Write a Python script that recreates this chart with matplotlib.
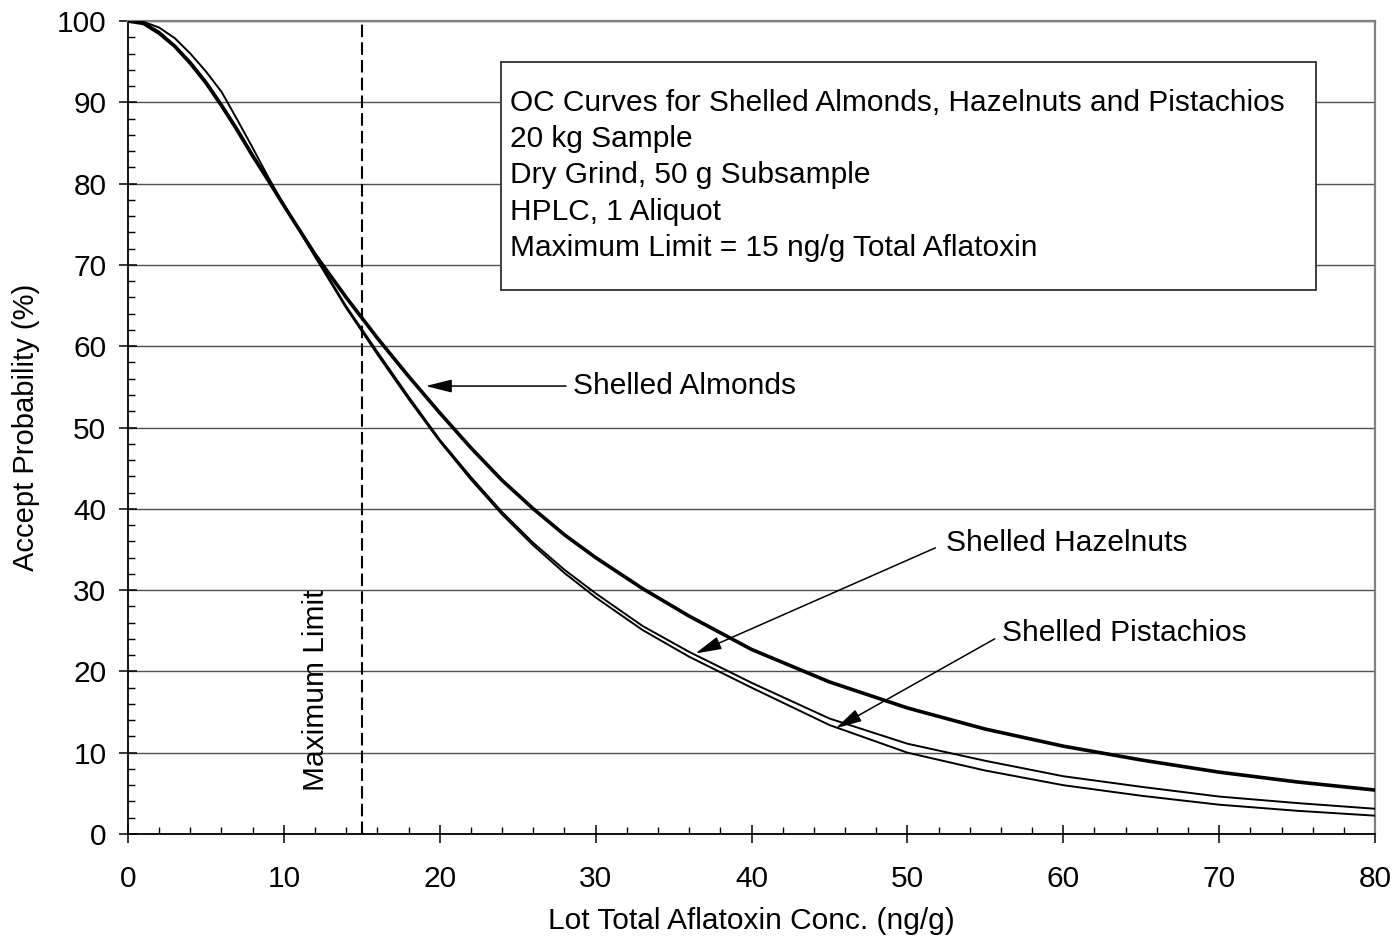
import matplotlib
matplotlib.use("Agg")
import matplotlib.pyplot as plt
from matplotlib.patches import Rectangle
from matplotlib.ticker import MultipleLocator

plt.rcParams["font.family"] = ["Liberation Sans", "DejaVu Sans"]

# lot concentration (ng/g) and accept probability (%)
CONC = [0, 1, 2, 3, 4, 5, 6, 7, 8, 9, 10, 12, 14, 16, 18, 20, 22, 24, 26, 28,
        30, 33, 36, 40, 45, 50, 55, 60, 65, 70, 75, 80]
ALMONDS = [100, 99.7, 98.5, 96.9, 94.8, 92.4, 89.6, 86.6, 83.4, 80.4, 77.3,
           71.3, 66.0, 61.0, 56.3, 51.8, 47.5, 43.5, 40.0, 36.8, 34.0, 30.2,
           26.8, 22.7, 18.7, 15.5, 12.9, 10.8, 9.1, 7.6, 6.4, 5.4]
HAZELNUTS = [100, 99.8, 98.7, 97.0, 95.0, 92.6, 89.8, 86.8, 83.6, 80.5, 77.4,
             71.2, 64.9, 59.3, 53.8, 48.5, 43.9, 39.6, 35.8, 32.5, 29.6, 25.6,
             22.4, 18.6, 14.2, 11.1, 9.0, 7.1, 5.8, 4.6, 3.8, 3.1]
PISTACHIOS = [100, 99.9, 99.2, 97.9, 96.0, 93.8, 91.3, 87.9, 84.4, 80.8, 77.4,
              71.0, 64.7, 59.0, 53.5, 48.3, 43.6, 39.3, 35.5, 32.1, 29.1, 25.1,
              21.8, 18.0, 13.4, 10.0, 7.8, 6.0, 4.7, 3.6, 2.85, 2.25]

MAX_LIMIT = 15
BOX_LINES = [
    "OC Curves for Shelled Almonds, Hazelnuts and Pistachios",
    "20 kg Sample",
    "Dry Grind, 50 g Subsample",
    "HPLC, 1 Aliquot",
    "Maximum Limit = 15 ng/g Total Aflatoxin",
]

FS = 21.5

fig = plt.figure(figsize=(13.97, 9.48), dpi=100)
ax = fig.add_axes([0.0916, 0.1203, 0.8927, 0.8575])

ax.set_xlim(0, 80)
ax.set_ylim(0, 100)

ax.yaxis.set_major_locator(MultipleLocator(10))
ax.yaxis.set_minor_locator(MultipleLocator(2))
ax.xaxis.set_major_locator(MultipleLocator(10))
ax.xaxis.set_minor_locator(MultipleLocator(2))
ax.grid(axis="y", which="major", color="#505050", linewidth=1.0, zorder=0)
ax.set_axisbelow(True)

ax.tick_params(which="major", direction="inout", length=13, width=1.1,
               labelsize=FS)
ax.tick_params(axis="x", which="major", pad=16)
ax.tick_params(axis="y", which="major", pad=9)
ax.tick_params(which="minor", direction="in", length=5, width=1.0)

for side in ("left", "bottom"):
    ax.spines[side].set_color("black")
    ax.spines[side].set_linewidth(1.3)
for side in ("top", "right"):
    ax.spines[side].set_color("#808080")
    ax.spines[side].set_linewidth(1.6)

ax.plot(CONC, PISTACHIOS, color="black", linewidth=1.4, zorder=3)
ax.plot(CONC, HAZELNUTS, color="black", linewidth=1.4, zorder=3)
ax.plot(CONC, ALMONDS, color="black", linewidth=2.6, zorder=4)

ax.axvline(MAX_LIMIT, color="black", linewidth=1.5, dashes=(6, 2.5), zorder=2)
ax.text(12.06, 17.7, "Maximum Limit", rotation=90, ha="center", va="center",
        fontsize=FS)

# info box
ax.add_patch(Rectangle((23.93, 66.9), 52.27, 28.06, facecolor="white",
                       edgecolor="#303030", linewidth=1.3, zorder=5))
for i, line in enumerate(BOX_LINES):
    ax.text(24.5, 89.9 - i * 4.45, line, ha="left", va="center",
            fontsize=FS, zorder=6)

arrow = dict(arrowstyle="-|>,head_length=0.8,head_width=0.2",
             mutation_scale=20, color="black", linewidth=1.1,
             shrinkA=0, shrinkB=0)
ax.annotate("", xy=(19.1, 55.1), xytext=(28.1, 55.1), arrowprops=arrow, zorder=6)
ax.text(28.55, 55.1, "Shelled Almonds", ha="left", va="center", fontsize=FS)

ax.annotate("", xy=(36.4, 22.2), xytext=(51.8, 35.2), arrowprops=arrow, zorder=6)
ax.text(52.5, 35.8, "Shelled Hazelnuts", ha="left", va="center", fontsize=FS)

ax.annotate("", xy=(45.4, 13.0), xytext=(55.6, 24.0), arrowprops=arrow, zorder=6)
ax.text(56.07, 24.7, "Shelled Pistachios", ha="left", va="center", fontsize=FS)

ax.set_xlabel("Lot Total Aflatoxin Conc. (ng/g)", fontsize=FS, labelpad=10)
ax.set_ylabel("Accept Probability (%)", fontsize=21, labelpad=12)

fig.savefig("out.png", dpi=100)
